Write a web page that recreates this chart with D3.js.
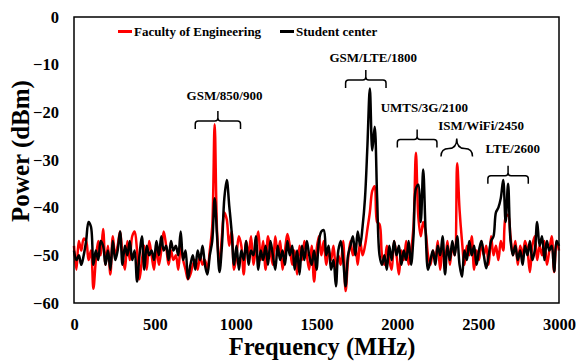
<!DOCTYPE html>
<html>
<head>
<meta charset="utf-8">
<script src="https://cdn.jsdelivr.net/npm/d3@7/dist/d3.min.js"></script>
<style>
  html, body { margin: 0; padding: 0; background: #fff; }
  svg { display: block; }
  text { font-family: "Liberation Serif", "Times New Roman", serif; font-weight: bold; fill: #000; }
</style>
</head>
<body>
<svg id="chart" width="577" height="361"></svg>
<script>
// Spectrum sweep, 0–3000 MHz in 15 MHz steps
const freqStart = 0, freqStep = 15;

// Received power (dBm) at the Faculty of Engineering site
const facultyPower = [
  -48, -53, -47, -49, -46.5, -47, -51, -49, -57, -51,
  -47, -50, -44.5, -52, -48, -54, -46, -50, -48, -45,
  -50, -53, -47, -51, -46, -45, -49, -55, -51, -48,
  -53, -47, -50, -53, -48, -52, -49, -45, -48, -52,
  -49, -51, -50, -53, -48, -51, -53, -55, -54, -52,
  -51, -53, -50, -52, -51, -53, -49, -44, -22.5, -45,
  -52, -46, -41, -42.5, -48, -45, -53, -50, -46, -48,
  -54, -47, -50, -46, -52, -48, -45, -51, -47, -53,
  -46, -49, -52, -46, -50, -47, -53, -49, -45.5, -48,
  -52, -49, -54, -48, -51, -47, -50, -53, -48, -55.5,
  -49, -46, -50, -47, -52, -49, -51, -48, -53, -50,
  -52, -47, -57.5, -51, -47, -50, -48, -52, -47, -50,
  -48, -44.5, -41, -36.5, -35.5, -43, -43.5, -50, -52, -48,
  -51, -53, -47, -50, -54, -49, -51, -47, -52, -49,
  -44, -28.5, -42, -46, -43, -45, -50, -52, -49, -51,
  -47, -53, -49, -51, -47, -52, -48, -50, -30.7, -40.5,
  -47, -52, -48, -50, -46, -53, -49, -51, -47, -50,
  -48, -52, -46, -50, -48, -51, -47, -49, -42, -41.5,
  -46, -50, -47, -52, -48, -50, -47, -49, -53.5, -48,
  -46, -51, -48, -50, -47, -52, -49, -46, -53.5, -47,
  -49
];

// Received power (dBm) at the Student center site
const studentPower = [
  -49, -51, -50, -52, -50, -47, -43, -44, -52, -49,
  -51, -47, -48, -52, -49, -53, -47, -51, -49, -45,
  -52, -48, -50, -47, -51, -49, -55.5, -50, -46, -53,
  -48, -50, -49, -51, -47, -50, -46, -49, -48, -51,
  -47, -49, -48, -50, -45, -51, -49, -55, -52, -50,
  -53, -49, -51, -48, -52, -54, -50, -47, -38, -46,
  -53.5, -48, -38, -34.2, -39.5, -45, -52, -48, -53, -49,
  -51, -47, -52, -49, -50, -46, -53, -49, -51, -48,
  -52, -47, -50, -53, -48, -51, -49, -52, -47, -50,
  -48, -53, -49, -54, -48, -51, -47, -50, -52, -49,
  -53, -47, -45, -44.7, -50, -48, -53, -51, -56.5, -49,
  -47, -51, -56.5, -50, -48, -46, -50, -45, -48, -44,
  -38, -27, -15, -28, -23, -38, -50, -52, -50, -53,
  -48, -51, -47, -50, -48, -52, -49, -51, -47, -52,
  -46, -36, -35.2, -43, -32, -45, -53, -51, -49, -52,
  -48, -50, -46, -54, -48, -51, -47, -50, -46, -52,
  -54.5, -49, -51, -47, -50, -48, -52, -49, -47, -50,
  -52.7, -50, -47, -46, -41, -40, -38, -34.2, -43, -35,
  -46.8, -50, -48, -51, -49, -52, -48, -50, -47, -51,
  -49, -43, -48, -46, -51, -47, -49, -48, -53.4, -47,
  -48
];

const seriesNames = ["Faculty of Engineering", "Student center"];
const xTicks = [0, 500, 1000, 1500, 2000, 2500, 3000];
const yTicks = [-60, -50, -40, -30, -20, -10, 0];

// Service bands marked above the spectrum: [name, low MHz, high MHz]
const bandNames = ["GSM/850/900", "GSM/LTE/1800", "UMTS/3G/2100", "ISM/WiFi/2450", "LTE/2600"];
const bandLow  = [750, 1680, 2000, 2270, 2560];
const bandHigh = [1030, 1930, 2245, 2465, 2810];

// Annotation layout: bracket level (dBm), label centre (MHz), label baseline (dBm), bracket style
const bandLayout = [
  { level: -21.8, labelX: 931,  labelY: -17.4, curly: false },
  { level: -13.2, labelX: 1851, labelY: -9.4,  curly: false },
  { level: -25.7, labelX: 2167, labelY: -20.0, curly: false },
  { level: -27.6, labelX: 2518, labelY: -23.7, curly: true  },
  { level: -33.3, labelX: 2714, labelY: -28.5, curly: false }
];

const svg = d3.select("#chart");
const plot = { left: 74, right: 559, top: 17, bottom: 303 };

const x = d3.scaleLinear().domain([0, 3000]).range([plot.left, plot.right]);
const y = d3.scaleLinear().domain([-60, 0]).range([plot.bottom, plot.top]);

const toPoints = arr => arr.map((v, i) => [freqStart + i * freqStep, v]);

const line = d3.line()
  .x(d => x(d[0]))
  .y(d => y(d[1]))
  .curve(d3.curveCatmullRom.alpha(0.5));

// Traces
svg.append("path")
  .datum(toPoints(facultyPower))
  .attr("fill", "none")
  .attr("stroke", "#ff0000")
  .attr("stroke-width", 2.5)
  .attr("stroke-linejoin", "round")
  .attr("d", line);

svg.append("path")
  .datum(toPoints(studentPower))
  .attr("fill", "none")
  .attr("stroke", "#000000")
  .attr("stroke-width", 2.5)
  .attr("stroke-linejoin", "round")
  .attr("d", line);

// Axes (labels only, no tick marks)
const xAxis = svg.append("g")
  .attr("transform", `translate(0,${plot.bottom})`)
  .call(d3.axisBottom(x).tickValues(xTicks).tickSize(0).tickPadding(15).tickFormat(d3.format("d")));
xAxis.select(".domain").remove();
xAxis.selectAll("text")
  .style("font-family", '"Liberation Serif", "Times New Roman", serif')
  .style("font-weight", "bold").style("font-size", "16.5px").attr("fill", "#000");

const yAxis = svg.append("g")
  .attr("transform", `translate(${plot.left},0)`)
  .call(d3.axisLeft(y).tickValues(yTicks).tickSize(0).tickPadding(15).tickFormat(d3.format("d")));
yAxis.select(".domain").remove();
yAxis.selectAll("text")
  .style("font-family", '"Liberation Serif", "Times New Roman", serif')
  .style("font-weight", "bold").style("font-size", "16.5px").attr("fill", "#000");

// Plot frame
svg.append("rect")
  .attr("x", plot.left).attr("y", plot.top)
  .attr("width", plot.right - plot.left).attr("height", plot.bottom - plot.top)
  .attr("fill", "none").attr("stroke", "#000").attr("stroke-width", 1.5);

// Axis titles
svg.append("text")
  .attr("x", 322).attr("y", 355)
  .attr("text-anchor", "middle").style("font-size", "24.5px")
  .text("Frequency (MHz)");

svg.append("text")
  .attr("transform", `translate(29,151) rotate(-90)`)
  .attr("text-anchor", "middle").style("font-size", "25px")
  .text("Power (dBm)");

// Legend
const legendItems = [
  { name: seriesNames[0], color: "#ff0000", x0: 118 },
  { name: seriesNames[1], color: "#000000", x0: 280 }
];
legendItems.forEach(it => {
  svg.append("line")
    .attr("x1", it.x0).attr("x2", it.x0 + 14)
    .attr("y1", 31.5).attr("y2", 31.5)
    .attr("stroke", it.color).attr("stroke-width", 3);
  svg.append("text")
    .attr("x", it.x0 + 16).attr("y", 35.5)
    .style("font-size", "13px")
    .text(it.name);
});

// Band brackets and labels
const bands = svg.append("g").attr("fill", "none").attr("stroke", "#000").attr("stroke-width", 1.5);
bandNames.forEach((name, i) => {
  const L = bandLayout[i];
  const x0 = x(bandLow[i]), x1 = x(bandHigh[i]), xc = (x0 + x1) / 2;
  const yh = y(L.level);
  let d;
  if (L.curly) {
    const yE = yh + 8, yT = yh - 10, q = (x1 - x0) / 4;
    d = `M${x0},${yE} Q${x0},${yh} ${x0 + q},${yh} Q${xc},${yh} ${xc},${yT}` +
        ` M${xc},${yT} Q${xc},${yh} ${x1 - q},${yh} Q${x1},${yh} ${x1},${yE}`;
  } else {
    const yE = yh + 8, yT = yh - 10, r = 3;
    d = `M${x0},${yE} V${yh + r} Q${x0},${yh} ${x0 + r},${yh} H${xc - r} Q${xc},${yh} ${xc},${yh - r} V${yT}` +
        ` M${xc},${yh - r} Q${xc},${yh} ${xc + r},${yh} H${x1 - r} Q${x1},${yh} ${x1},${yh + r} V${yE}`;
  }
  bands.append("path").attr("d", d);
  svg.append("text")
    .attr("x", x(L.labelX)).attr("y", y(L.labelY))
    .attr("text-anchor", "middle").style("font-size", "13px")
    .text(name);
});
</script>
</body>
</html>
